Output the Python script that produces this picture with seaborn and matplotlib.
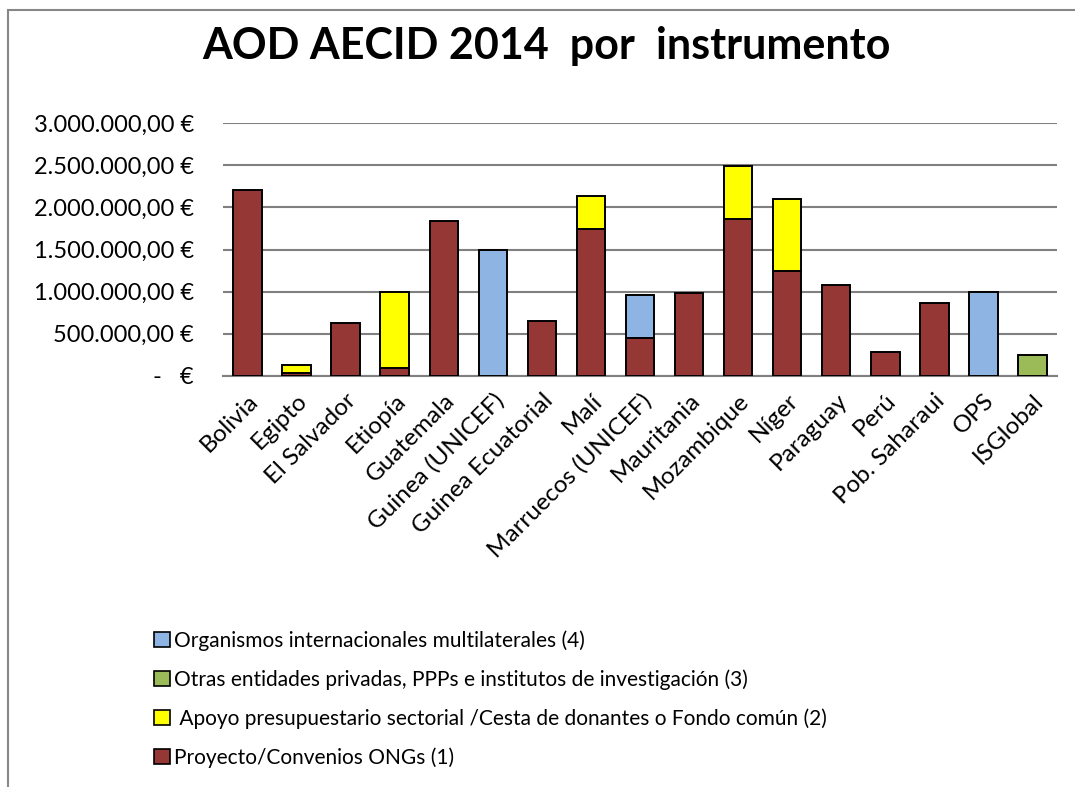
import numpy as np
import pandas as pd
import matplotlib
matplotlib.use("Agg")
import matplotlib.pyplot as plt
from matplotlib.patches import Patch, Rectangle
from matplotlib.ticker import FuncFormatter, MultipleLocator
import seaborn as sns

paises = ['Bolivia', 'Egipto', 'El Salvador', 'Etiopía', 'Guatemala',
          'Guinea (UNICEF)', 'Guinea Ecuatorial', 'Malí', 'Marruecos (UNICEF)',
          'Mauritania', 'Mozambique', 'Níger', 'Paraguay', 'Perú',
          'Pob. Saharaui', 'OPS', 'ISGlobal']

# valores (euros)
proyecto_ongs = [2200000, 35000, 627000, 100000, 1838000, 0, 647000, 1743000,
                 453000, 986000, 1865000, 1250000, 1080000, 288000, 868000, 0, 0]
apoyo_presup = [0, 100000, 0, 900000, 0, 0, 0, 386000,
                0, 0, 627000, 852000, 0, 0, 0, 0, 0]
otras_entidades = [0, 0, 0, 0, 0, 0, 0, 0,
                   0, 0, 0, 0, 0, 0, 0, 0, 245000]
organismos_multi = [0, 0, 0, 0, 0, 1500000, 0, 0,
                    505000, 0, 0, 0, 0, 0, 0, 1000000, 0]

series = [
    ('Proyecto/Convenios ONGs (1)', proyecto_ongs, '#953735'),
    (' Apoyo presupuestario sectorial /Cesta de donantes o Fondo común (2)', apoyo_presup, '#FFFF00'),
    ('Otras entidades privadas, PPPs e institutos de investigación (3)', otras_entidades, '#9BBB59'),
    ('Organismos internacionales multilaterales (4)', organismos_multi, '#8EB4E3'),
]


def euros(v, pos):
    if v == 0:
        return '-   €'
    s = f"{v:,.2f}"
    s = s.replace(',', 'X').replace('.', ',').replace('X', '.')
    return s + ' €'


sns.set_style('white')
plt.rcParams['font.family'] = ['Lato', 'DejaVu Sans']
plt.rcParams['text.color'] = 'black'
plt.rcParams['xtick.color'] = 'black'
plt.rcParams['ytick.color'] = 'black'

fig = plt.figure(figsize=(10.75, 7.87), dpi=100)
ax = fig.add_axes([223 / 1075, 1 - 376 / 787, (1057 - 223) / 1075, (376 - 123) / 787])

base = np.zeros(len(paises))
for nombre, valores, color in series:
    df = pd.DataFrame({'pais': paises, 'valor': valores})
    sns.barplot(data=df, x='pais', y='valor', order=paises, color=color,
                bottom=base.copy(), width=0.58, edgecolor='black',
                linewidth=1.4, saturation=1, ax=ax, zorder=3)
    base = base + np.array(valores)

# ocultar segmentos vacíos
for p in ax.patches:
    if p.get_height() == 0:
        p.set_visible(False)

ax.set_ylim(0, 3000000)
ax.set_xlim(-0.5, len(paises) - 0.5)
ax.yaxis.set_major_locator(MultipleLocator(500000))
ax.yaxis.set_major_formatter(FuncFormatter(euros))
ax.grid(axis='y', color='#808080', linewidth=1.5, zorder=0)
ax.set_axisbelow(True)
for s in ['top', 'right', 'left']:
    ax.spines[s].set_visible(False)
ax.spines['bottom'].set_color('#808080')
ax.spines['bottom'].set_linewidth(1.5)
ax.set_xlabel('')
ax.set_ylabel('')
ax.tick_params(axis='y', labelsize=17, length=0, pad=21)
ax.tick_params(axis='x', labelsize=17.5, length=0, pad=10)
plt.setp(ax.get_xticklabels(), rotation=45, ha='right', rotation_mode='anchor')

fig.text(0.508, 1 - 46 / 787, 'AOD AECID 2014  por  instrumento',
         ha='center', va='center', fontsize=31, fontweight='bold')

handles = [Patch(facecolor=c, edgecolor='black', linewidth=1.2) for _, _, c in series][::-1]
labels = [n for n, _, _ in series][::-1]
fig.legend(handles, labels, loc='upper left', bbox_to_anchor=(146 / 1075, 1 - 622 / 787),
           frameon=False, fontsize=15, handlelength=0.75, handleheight=0.75,
           handletextpad=0.2, labelspacing=0.88, borderaxespad=0)

# marco del área del gráfico
fig.add_artist(Rectangle((8 / 1075, -0.1), 1.2, 1 - 10 / 787 + 0.1,
                         transform=fig.transFigure, fill=False,
                         edgecolor='#878787', linewidth=1.5))

fig.savefig('out.png', dpi=100)
